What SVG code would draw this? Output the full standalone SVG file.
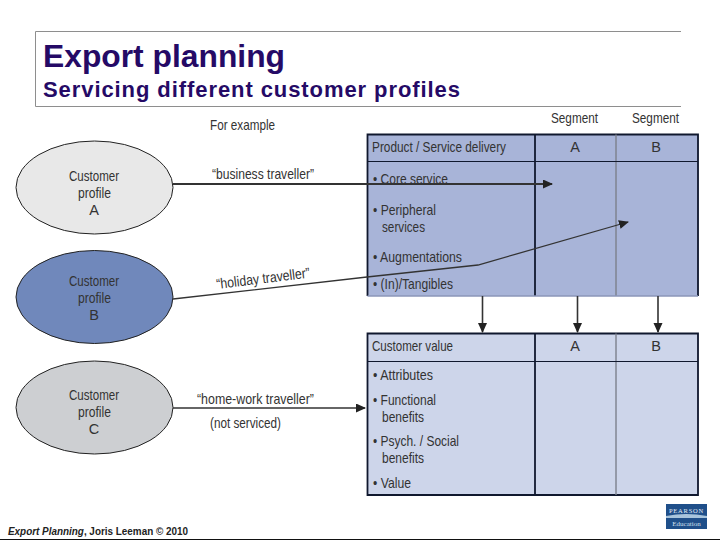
<svg xmlns="http://www.w3.org/2000/svg" width="720" height="540" viewBox="0 0 720 540">
<style>
text{font-family:"Liberation Sans",Arial,sans-serif;fill:#333;font-size:14.500px}
.t{fill:#250a66;font-weight:bold}
.m{text-anchor:middle}
.g{stroke:#333;fill:none;stroke-width:1.6}
.b{stroke:#10182e;fill:none;stroke-width:1.8}
.thin{stroke:#7c808c;fill:none;stroke-width:1.4}
.e{stroke:#222;stroke-width:1}
</style>
<defs>
<marker id="a" markerUnits="userSpaceOnUse" markerWidth="11" markerHeight="10" refX="9" refY="4.500" orient="auto"><path d="M0 0L10 4.500L0 9z" fill="#222"/></marker>
</defs>
<rect width="720" height="540" fill="#fff"/>
<path d="M681 31.500H35.500V106.500H681" fill="none" stroke="#8e8e8e" stroke-width="1"/>
<text class="t" x="43" y="67" textLength="242" lengthAdjust="spacingAndGlyphs" style="font-size:32px">Export planning</text>
<text class="t" x="43" y="97" textLength="417" style="font-size:22px">Servicing different customer profiles</text>
<text x="210" y="130" textLength="65" lengthAdjust="spacingAndGlyphs">For example</text>
<text x="551" y="123" textLength="47" lengthAdjust="spacingAndGlyphs">Segment</text>
<text x="632" y="123" textLength="47" lengthAdjust="spacingAndGlyphs">Segment</text>

<g id="table-delivery">
<rect x="367.500" y="134.500" width="331" height="161.500" fill="#a8b4d8"/>
<path class="b" d="M367.500 296V134.500H698V296"/>
<path class="b" d="M535 134.500V296"/>
<path class="thin" d="M616 134.500V296"/>
<path d="M367.500 161.500H698" stroke="#10182e" stroke-width="1.100"/>
<path d="M367.500 296H698" stroke="#8b96b8" stroke-width="1.500"/>
<text x="372" y="152" textLength="134" lengthAdjust="spacingAndGlyphs">Product / Service delivery</text>
<text class="m" x="575" y="152">A</text>
<text class="m" x="656" y="152">B</text>
<text x="373" y="184" textLength="75" lengthAdjust="spacingAndGlyphs">• Core service</text>
<text x="373" y="215" textLength="63" lengthAdjust="spacingAndGlyphs">• Peripheral</text>
<text x="382" y="232" textLength="43" lengthAdjust="spacingAndGlyphs">services</text>
<text x="373" y="262" textLength="89" lengthAdjust="spacingAndGlyphs">• Augmentations</text>
<text x="373" y="289" textLength="80" lengthAdjust="spacingAndGlyphs">• (In)/Tangibles</text>
</g>

<g id="table-value">
<rect x="367.500" y="333.500" width="331" height="161.500" fill="#cdd5ea"/>
<path class="b" d="M367.500 333.500H698V495H367.500Z"/>
<path class="b" d="M535 333.500V495"/>
<path class="thin" d="M616 333.500V495"/>
<path d="M367.500 361.500H698" stroke="#10182e" stroke-width="1.100"/>
<text x="372" y="351" textLength="81" lengthAdjust="spacingAndGlyphs">Customer value</text>
<text class="m" x="575" y="351">A</text>
<text class="m" x="656" y="351">B</text>
<text x="373" y="380" textLength="60" lengthAdjust="spacingAndGlyphs">• Attributes</text>
<text x="373" y="405" textLength="63" lengthAdjust="spacingAndGlyphs">• Functional</text>
<text x="382" y="422" textLength="42" lengthAdjust="spacingAndGlyphs">benefits</text>
<text x="373" y="446" textLength="86" lengthAdjust="spacingAndGlyphs">• Psych. / Social</text>
<text x="382" y="463" textLength="42" lengthAdjust="spacingAndGlyphs">benefits</text>
<text x="373" y="488" textLength="38" lengthAdjust="spacingAndGlyphs">• Value</text>
</g>

<g id="profile-a">
<ellipse class="e" cx="94.500" cy="187.500" rx="78.500" ry="46.500" fill="#e8e8e8"/>
<text x="69" y="181" textLength="50" lengthAdjust="spacingAndGlyphs">Customer</text>
<text x="78" y="198" textLength="33" lengthAdjust="spacingAndGlyphs">profile</text>
<text class="m" x="94" y="215">A</text>
</g>
<g id="profile-b">
<ellipse class="e" cx="94.500" cy="297" rx="78.500" ry="46.500" fill="#7088bb"/>
<text x="69" y="286" textLength="50" lengthAdjust="spacingAndGlyphs">Customer</text>
<text x="78" y="303" textLength="33" lengthAdjust="spacingAndGlyphs">profile</text>
<text class="m" x="94" y="320">B</text>
</g>
<g id="profile-c">
<ellipse class="e" cx="94.500" cy="407.500" rx="78.500" ry="46.500" fill="#cdcfd2"/>
<text x="69" y="400" textLength="50" lengthAdjust="spacingAndGlyphs">Customer</text>
<text x="78" y="417" textLength="33" lengthAdjust="spacingAndGlyphs">profile</text>
<text class="m" x="94" y="434">C</text>
</g>

<g id="connectors">
<path class="g" style="stroke-width:2" d="M173 184H552" marker-end="url(#a)"/>
<path class="g" style="stroke-width:1.300" d="M173 299L367 277L478 265L628 222" marker-end="url(#a)"/>
<path class="g" d="M173 408H365" marker-end="url(#a)"/>
<path class="g" d="M482.500 296V332" marker-end="url(#a)"/>
<path class="g" d="M577.500 296V332" marker-end="url(#a)"/>
<path class="g" d="M658 296V332" marker-end="url(#a)"/>
</g>

<text x="212" y="179" textLength="102" lengthAdjust="spacingAndGlyphs">“business traveller”</text>
<text x="217" y="289" transform="rotate(-7 217 289)" textLength="94" lengthAdjust="spacingAndGlyphs">“holiday traveller”</text>
<text x="197" y="404" textLength="117" lengthAdjust="spacingAndGlyphs">“home-work traveller”</text>
<text x="210" y="428" textLength="71" lengthAdjust="spacingAndGlyphs">(not serviced)</text>

<text x="8" y="535" textLength="180" lengthAdjust="spacingAndGlyphs" style="font-size:10.500px;font-weight:bold;fill:#222"><tspan font-style="italic">Export Planning</tspan>, Joris Leeman © 2010</text>
<path d="M0 539.500H720" stroke="#111" stroke-width="1"/>
<g id="pearson-logo">
<rect x="666" y="504" width="41" height="25" fill="#1f4f8a"/>
<path d="M666 516Q686 512 707 516V518H666Z" fill="#a8c4dc"/>
<text class="m" x="686.500" y="513" style="font-size:6.500px;fill:#e8eef6;letter-spacing:.8px;font-family:'Liberation Serif',serif">PEARSON</text>
<text class="m" x="686.500" y="526" style="font-size:7px;fill:#d5e0ee;font-family:'Liberation Serif',serif">Education</text>
</g>
</svg>
